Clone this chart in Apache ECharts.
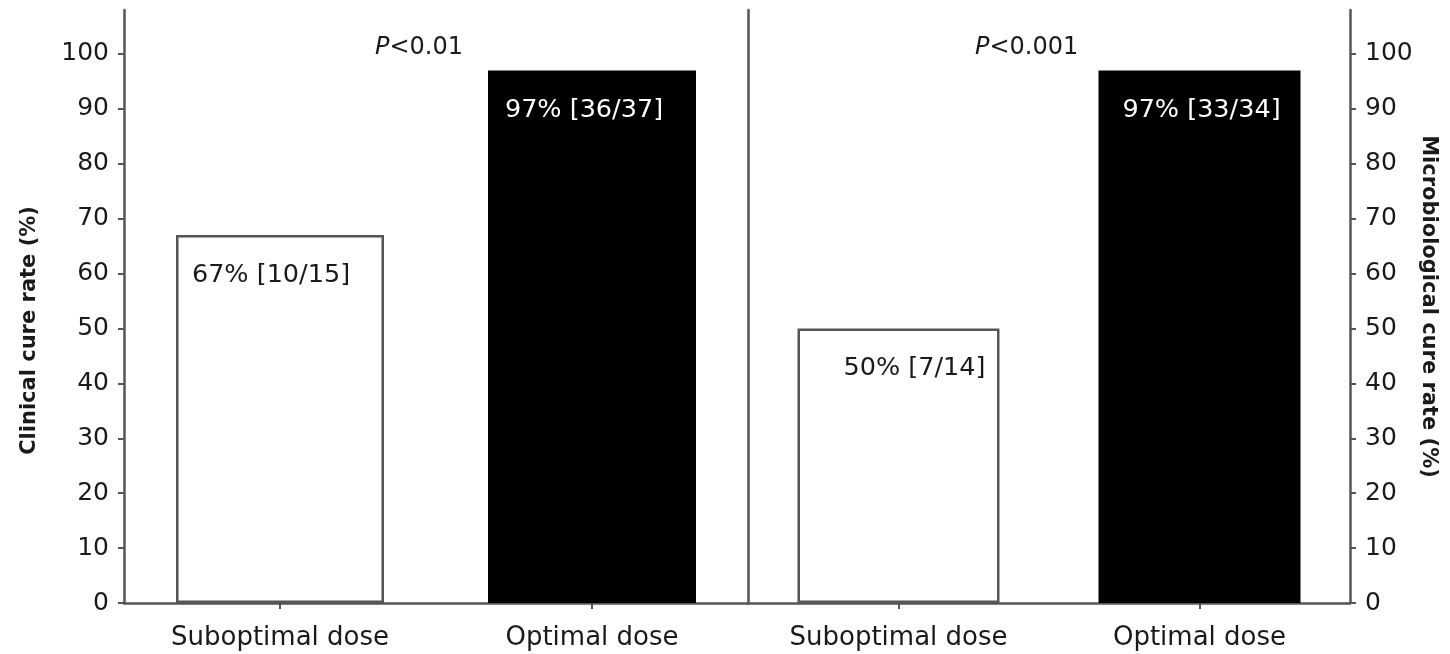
<!DOCTYPE html>
<html>
<head>
<meta charset="utf-8">
<script src="https://cdn.jsdelivr.net/npm/echarts@6/dist/echarts.min.js"></script>
<style>
html,body{margin:0;padding:0;background:#fff;}
#chart{width:1450px;height:654px;}
</style>
</head>
<body>
<div id="chart"></div>
<script>
const categories = ['Suboptimal dose', 'Optimal dose'];
const clinicalValues = [67, 97];
const clinicalLabels = ['67% [10/15]', '97% [36/37]'];
const microValues = [50, 97];
const microLabels = ['50% [7/14]', '97% [33/34]'];
const yTicks = [0, 10, 20, 30, 40, 50, 60, 70, 80, 90, 100];
const pLeft = '<0.01';
const pRight = '<0.001';

const FONT = 'DejaVu Sans';
const AXIS_COLOR = '#555';
const TEXT_COLOR = '#1a1a1a';
const fills = ['#ffffff', '#000000'];
const labelColors = ['#1a1a1a', '#ffffff'];

function barData(values, labels, offsets) {
  return values.map((v, i) => ({
    value: v,
    itemStyle: { color: fills[i], borderColor: i === 0 ? AXIS_COLOR : '#000', borderWidth: 2.5 },
    label: { show: true, position: 'insideTop', distance: 27, offset: offsets[i],
      formatter: labels[i], color: labelColors[i], fontSize: 25.5, fontFamily: FONT }
  }));
}

const baseY = {
  type: 'value', min: 0, max: 108,
  splitLine: { show: false },
  axisLine: { show: true, lineStyle: { color: AXIS_COLOR, width: 2.5 } },
  axisTick: { show: true, length: 6, customValues: yTicks, lineStyle: { color: AXIS_COLOR, width: 2 } },
  axisLabel: { customValues: yTicks, fontSize: 25, fontFamily: FONT, color: TEXT_COLOR, margin: 15 }
};

const baseX = {
  type: 'category', data: categories,
  axisLine: { show: true, onZero: false, lineStyle: { color: AXIS_COLOR, width: 2.5 } },
  axisTick: { show: true, alignWithLabel: true, length: 6, inside: false, lineStyle: { color: AXIS_COLOR, width: 2 },
    interval: 0 },
  axisLabel: { fontSize: 26, fontFamily: FONT, color: TEXT_COLOR, margin: 22 }
};

const pStyle = { fontSize: 24, fontFamily: FONT, color: TEXT_COLOR, fontWeight: 'normal',
  rich: { i: { fontStyle: 'italic', fontSize: 24, fontFamily: FONT, color: TEXT_COLOR } } };

const option = {
  backgroundColor: '#fff',
  animation: false,
  grid: [
    { left: 124, right: 702, top: 10, bottom: 51 },
    { left: 748, right: 100, top: 10, bottom: 51 }
  ],
  xAxis: [
    Object.assign({}, baseX, { gridIndex: 0 }),
    Object.assign({}, baseX, { gridIndex: 1 })
  ],
  yAxis: [
    Object.assign({}, baseY, { gridIndex: 0, position: 'left',
      name: 'Clinical cure rate (%)', nameLocation: 'middle', nameGap: 84,
      nameTextStyle: { fontSize: 21, fontWeight: 'bold', fontFamily: FONT, color: TEXT_COLOR,
        padding: [0, 48, 0, 0] } }),
    Object.assign({}, baseY, { gridIndex: 1, position: 'right',
      name: 'Microbiological cure rate (%)', nameLocation: 'middle', nameGap: 68, nameRotate: -90,
      nameTextStyle: { fontSize: 21, fontWeight: 'bold', fontFamily: FONT, color: TEXT_COLOR } }),
    { type: 'value', gridIndex: 1, position: 'left', min: 0, max: 108,
      axisLine: { show: true, lineStyle: { color: AXIS_COLOR, width: 2.5 } },
      axisTick: { show: false }, axisLabel: { show: false }, splitLine: { show: false } }
  ],
  title: [
    { left: 370, top: 31, text: '{i|P}' + pLeft, textStyle: pStyle },
    { left: 970, top: 31, text: '{i|P}' + pRight, textStyle: pStyle }
  ],
  series: [
    { type: 'bar', xAxisIndex: 0, yAxisIndex: 0, barWidth: 208,
      data: barData(clinicalValues, clinicalLabels, [[-9, 0], [-8, 0]]) },
    { type: 'bar', xAxisIndex: 1, yAxisIndex: 1, barWidth: 202,
      data: barData(microValues, microLabels, [[16, 0], [2, 0]]) }
  ]
};

const chart = echarts.init(document.getElementById('chart'), null, { renderer: 'canvas' });
chart.setOption(option);
</script>
</body>
</html>
